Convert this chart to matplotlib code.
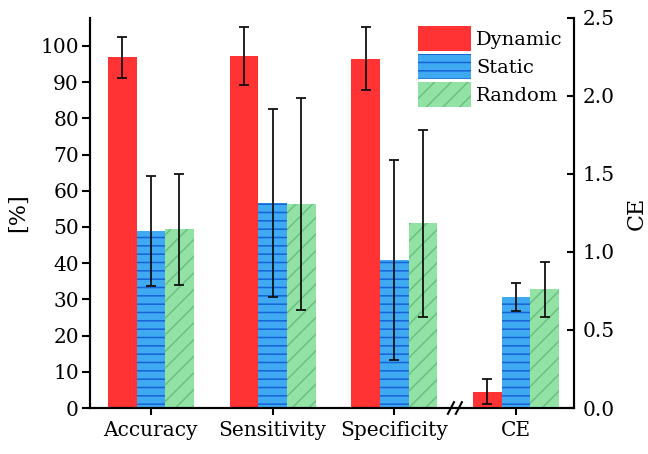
import matplotlib
matplotlib.use("Agg")
import matplotlib.pyplot as plt
import numpy as np

# values
categories = ['Accuracy', 'Sensitivity', 'Specificity', 'CE']
series = ['Dynamic', 'Static', 'Random']

dynamic_pct = [96.8, 97.2, 96.4]
dynamic_pct_err = [5.7, 8.0, 8.7]
static_pct = [48.9, 56.7, 40.9]
static_pct_err = [15.1, 26.0, 27.7]
random_pct = [49.4, 56.4, 51.0]
random_pct_err = [15.3, 29.2, 25.8]

ce_values = [0.105, 0.71, 0.76]
ce_err = [0.081, 0.09, 0.178]

left_ticks = list(range(0, 101, 10))
right_ticks = [0.0, 0.5, 1.0, 1.5, 2.0, 2.5]

colors = ['#ff3333', '#3fa9f2', '#92e2a6']
hatch_colors = ['#ff3333', '#1763d6', '#6cc080']
hatches = [None, '--', '//']

plt.rcParams['font.family'] = ['DejaVu Serif']
plt.rcParams['font.size'] = 14.5
plt.rcParams['hatch.linewidth'] = 1.1

fig = plt.figure(figsize=(6.48, 4.54), dpi=100)
ax = fig.add_axes([90 / 648, 1 - 408 / 454, (574 - 90) / 648, (408 - 18) / 454])
ax2 = ax.twinx()

width = 0.235
offsets = [-width, 0, width]
x_pct = np.arange(3)
x_ce = 3

pct_data = [(dynamic_pct, dynamic_pct_err), (static_pct, static_pct_err), (random_pct, random_pct_err)]
err_kw = dict(ecolor='#111111', elinewidth=1.3, capsize=3.5, capthick=1.3)

handles = []
for i, name in enumerate(series):
    vals, errs = pct_data[i]
    b = ax.bar(x_pct + offsets[i], vals, width, yerr=errs, color=colors[i],
               edgecolor=hatch_colors[i], linewidth=0, hatch=hatches[i],
               error_kw=err_kw, label=name)
    ax2.bar(x_ce + offsets[i], ce_values[i], width, yerr=ce_err[i], color=colors[i],
            edgecolor=hatch_colors[i], linewidth=0, hatch=hatches[i],
            error_kw=err_kw)
    handles.append(b)

ax.set_xlim(-0.5, 3.476)
ax.set_ylim(0, 107.7)
ax2.set_ylim(0, 2.5)

ax.set_yticks(left_ticks)
ax2.set_yticks(right_ticks)
ax2.set_yticklabels(['%.1f' % t for t in right_ticks])
ax.set_xticks(range(len(categories)))
ax.set_xticklabels(categories)

for a in (ax, ax2):
    a.spines['top'].set_visible(False)
    for s in a.spines.values():
        s.set_linewidth(1.5)
ax.tick_params(axis='y', direction='out', length=6, width=1.5, pad=2)
ax.tick_params(axis='x', direction='out', length=5, width=1.5, pad=4)
ax2.tick_params(axis='y', direction='in', length=5, width=1.5, pad=6)

ax.set_ylabel('[%]', fontsize=16, labelpad=8)
ax2.set_ylabel('CE', fontsize=16, labelpad=8)

# axis break marks between Specificity and CE
trans = ax.get_xaxis_transform()
for xc in (2.465, 2.53):
    ax.plot([xc - 0.025, xc + 0.025], [-0.015, 0.015], color='black', lw=1.5,
            transform=trans, clip_on=False, zorder=5)

fig.legend(handles=handles, labels=series, loc='upper left',
           bbox_to_anchor=(418 / 648, 1 - 26 / 454), bbox_transform=fig.transFigure,
           frameon=False, borderpad=0, borderaxespad=0, fontsize=14,
           handlelength=2.7, handleheight=1.6, labelspacing=0.15, handletextpad=0.3)

fig.savefig('out.png', dpi=100)
